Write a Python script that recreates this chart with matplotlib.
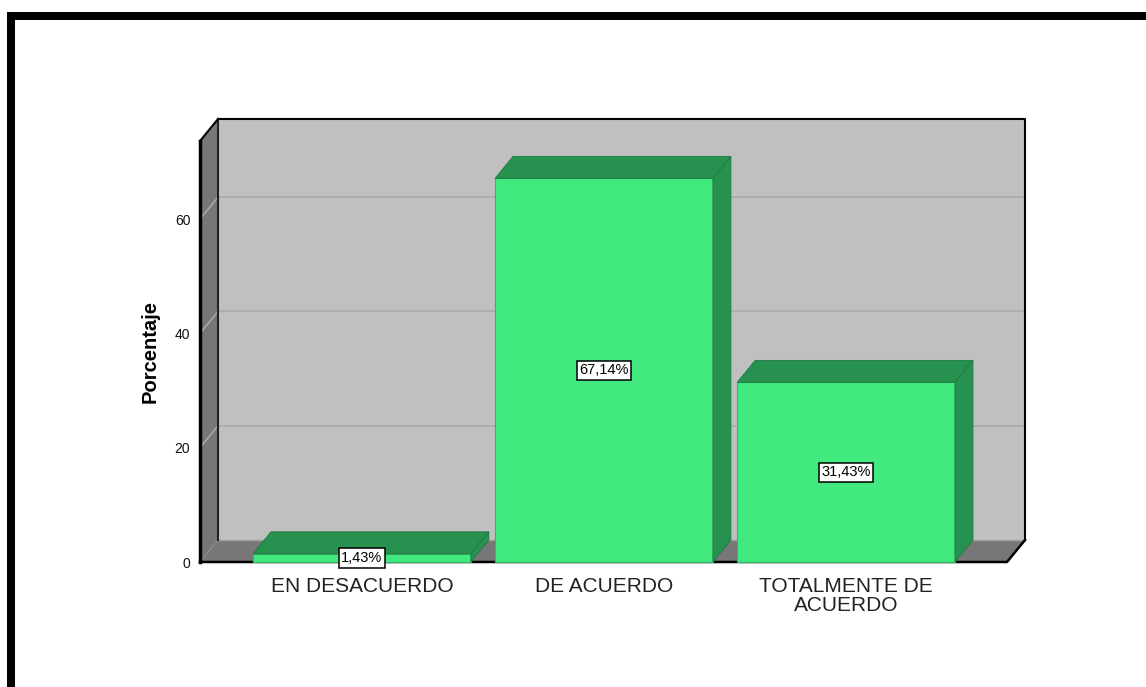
import matplotlib
matplotlib.use("Agg")
import matplotlib.pyplot as plt
from matplotlib.patches import Polygon, Rectangle

plt.rcParams['font.family'] = ['Liberation Sans', 'DejaVu Sans']

categories = ["EN DESACUERDO", "DE ACUERDO", "TOTALMENTE DE\nACUERDO"]
values = [1.43, 67.14, 31.43]
labels = ["1,43%", "67,14%", "31,43%"]
yticks = [0, 20, 40, 60]

W, H = 1146, 687
fig = plt.figure(figsize=(W / 100, H / 100), dpi=100)
fig.patch.set_facecolor("white")

# outer frame (left and top thick black lines)
fig.add_artist(Rectangle((7 / W, 0), 8 / W, (H - 12) / H, transform=fig.transFigure,
                         facecolor="black", edgecolor="none"))
fig.add_artist(Rectangle((7 / W, (H - 20) / H), (W - 7) / W, 8 / H, transform=fig.transFigure,
                         facecolor="black", edgecolor="none"))

# axes = front plane
left_px, right_px, bottom_px, top_px = 200, 1007, 562, 141
ax = fig.add_axes([left_px / W, (H - bottom_px) / H, (right_px - left_px) / W,
                   (bottom_px - top_px) / H])
ax.set_facecolor("none")
for s in ax.spines.values():
    s.set_visible(False)

xmin, xmax = -0.669, 2.665
ppy = 5.714
ymax = (bottom_px - top_px) / ppy
ax.set_xlim(xmin, xmax)
ax.set_ylim(0, ymax)

# depth offsets in data units
DX = 18 / ((right_px - left_px) / (xmax - xmin))
DY = 22 / ppy

wall = "#C0C0C0"
side = "#777777"
kw = dict(clip_on=False)

# back wall
ax.add_patch(Polygon([(xmin + DX, DY), (xmax + DX, DY), (xmax + DX, ymax + DY), (xmin + DX, ymax + DY)],
                     closed=True, facecolor=wall, edgecolor="none", zorder=1, **kw))
# gridlines
for t in yticks[1:]:
    ax.plot([xmin + DX, xmax + DX], [t + DY, t + DY], color="#AAAAAA", lw=1.2, zorder=2, **kw)
# left side wall
ax.add_patch(Polygon([(xmin, 0), (xmin, ymax), (xmin + DX, ymax + DY), (xmin + DX, DY)],
                     closed=True, facecolor=side, edgecolor="none", zorder=3, **kw))
for t in yticks[1:]:
    ax.plot([xmin, xmin + DX], [t, t + DY], color="#A8A8A8", lw=1.2, zorder=3.5, **kw)
# floor
ax.add_patch(Polygon([(xmin, 0), (xmax, 0), (xmax + DX, DY), (xmin + DX, DY)],
                     closed=True, facecolor=side, edgecolor="none", zorder=3, **kw))
ax.plot([xmin + DX, xmax + DX], [DY, DY], color="#A0A0A0", lw=1.0, zorder=3.6, **kw)

# edges
ek = dict(color="black", zorder=4, solid_capstyle="projecting", **kw)
ax.plot([xmin + DX, xmax + DX, xmax + DX], [ymax + DY, ymax + DY, DY], lw=1.5, **ek)
ax.plot([xmin + DX, xmin + DX], [DY, ymax + DY], lw=1.5, color="#222222", zorder=4, clip_on=False)
ax.plot([xmin, xmin + DX], [ymax, ymax + DY], lw=1.5, **ek)
ax.plot([xmin, xmin], [0, ymax], lw=2.5, **ek)
ax.plot([xmin, xmax, xmax + DX], [0, 0, DY], lw=1.8, **ek)

# bars
front = "#42E97F"
dark = "#27914F"
bw = 0.9
for i, (v, lab) in enumerate(zip(values, labels)):
    x0, x1 = i - bw / 2, i + bw / 2
    ax.add_patch(Rectangle((x0, 0), bw, v, facecolor=front, edgecolor="#2FB862", lw=0.8, zorder=5, **kw))
    ax.add_patch(Polygon([(x0, v), (x1, v), (x1 + DX, v + DY), (x0 + DX, v + DY)], closed=True,
                         facecolor=dark, edgecolor="#1F7A42", lw=0.6, zorder=5, **kw))
    ax.add_patch(Polygon([(x1, 0), (x1, v), (x1 + DX, v + DY), (x1 + DX, DY)], closed=True,
                         facecolor=dark, edgecolor="#1F7A42", lw=0.6, zorder=5, **kw))
    ax.text(i, v / 2, lab, ha="center", va="center", fontsize=10.5, color="black", zorder=7,
            bbox=dict(boxstyle="square,pad=0.18", facecolor="white", edgecolor="black", lw=1.1))

ax.set_xticks(range(len(categories)))
ax.set_xticklabels(categories, fontsize=15, color="#222222", linespacing=0.95)
ax.set_yticks(yticks)
ax.set_yticklabels([str(t) for t in yticks], fontsize=10, color="#111111")
ax.tick_params(axis="both", length=0)
ax.tick_params(axis="x", pad=11)
ax.tick_params(axis="y", pad=7)
ax.set_ylabel("Porcentaje", fontsize=14.5, fontweight="bold", labelpad=11)

fig.savefig("out.png", dpi=100, facecolor="white")
